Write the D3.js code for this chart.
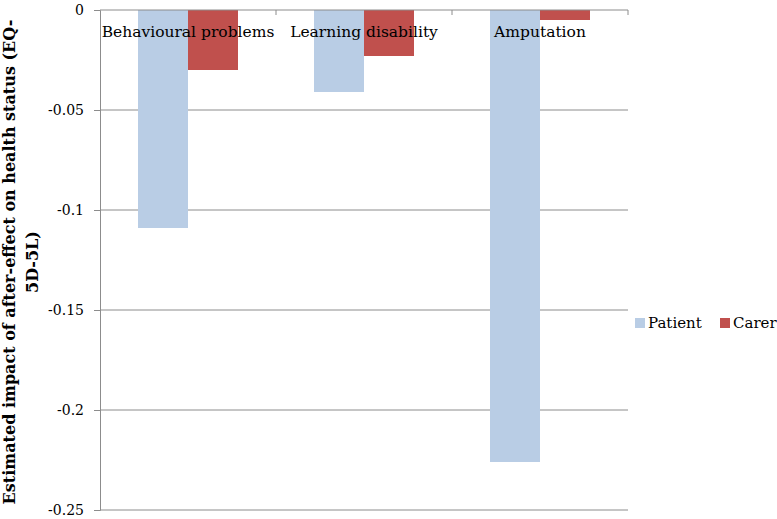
<!doctype html>
<html>
  <head>
    <meta charset="utf-8">
    <title>After-effect impact on health status</title>
    <script src="https://cdnjs.cloudflare.com/ajax/libs/d3/7.8.5/d3.min.js"></script>
    <style>
      body { margin: 0; background: #fff; }
      text { font-family: "DejaVu Serif", serif; fill: #000; }
    </style>
  </head>
  <body>
    <div id="chart"></div>
    <script>
      // data
      const categories = ['Behavioural problems', 'Learning disability', 'Amputation'];
      const series = ['Patient', 'Carer'];
      const patient = [-0.109, -0.041, -0.226];
      const carer = [-0.030, -0.023, -0.005];
      const yTicks = [0, -0.05, -0.1, -0.15, -0.2, -0.25];
      const colors = ['#b9cde5', '#c0504d'];

      const width = 777, height = 519;
      const plotL = 100, plotR = 628, plotT = 10, plotB = 510;

      const svg = d3.select('#chart').append('svg')
        .attr('width', width)
        .attr('height', height);

      const x = d3.scaleBand().domain(categories).range([plotL, plotR]).padding(0);
      const xs = d3.scaleBand().domain(series).range([0, x.bandwidth()]).paddingInner(0).paddingOuter(0.76);
      const y = d3.scaleLinear().domain([-0.25, 0]).range([plotB, plotT]);

      // gridlines
      svg.append('g')
        .selectAll('line')
        .data(yTicks.filter(d => d !== 0))
        .join('line')
        .attr('x1', plotL).attr('x2', plotR)
        .attr('y1', d => y(d)).attr('y2', d => y(d))
        .attr('stroke', '#8c8c8c').attr('stroke-width', 1);

      // y axis
      const yAxis = svg.append('g')
        .attr('transform', `translate(${plotL},0)`)
        .call(d3.axisLeft(y).tickValues(yTicks).tickSize(6).tickPadding(10)
          .tickFormat(d => d === 0 ? '0' : String(d)));
      yAxis.select('.domain').attr('stroke', '#8c8c8c');
      yAxis.selectAll('.tick line').attr('stroke', '#8c8c8c');
      yAxis.selectAll('.tick text')
        .style('font-family', '"DejaVu Serif", serif')
        .style('font-size', '14px');

      // bars
      const rows = categories.map((c, i) => ({ cat: c, vals: [patient[i], carer[i]] }));
      svg.append('g')
        .selectAll('g')
        .data(rows)
        .join('g')
        .attr('transform', d => `translate(${x(d.cat)},0)`)
        .selectAll('rect')
        .data(d => d.vals.map((v, j) => ({ s: series[j], v: v, j: j })))
        .join('rect')
        .attr('x', d => xs(d.s))
        .attr('width', xs.bandwidth())
        .attr('y', y(0))
        .attr('height', d => y(d.v) - y(0))
        .attr('fill', d => colors[d.j]);

      // category axis along zero
      const xAxis = svg.append('g')
        .attr('transform', `translate(0,${y(0)})`);
      xAxis.append('line')
        .attr('x1', plotL).attr('x2', plotR)
        .attr('stroke', '#8c8c8c');
      xAxis.selectAll('line.tick')
        .data(categories.map(c => x(c) + x.bandwidth()))
        .join('line')
        .attr('class', 'tick')
        .attr('x1', d => d).attr('x2', d => d)
        .attr('y1', 0).attr('y2', 5)
        .attr('stroke', '#8c8c8c');
      xAxis.selectAll('text')
        .data(categories)
        .join('text')
        .attr('x', d => x(d) + x.bandwidth() / 2)
        .attr('y', 27)
        .attr('text-anchor', 'middle')
        .style('font-size', '15.5px')
        .text(d => d);

      // y title
      svg.append('text')
        .attr('transform', 'translate(15,262) rotate(-90)')
        .attr('text-anchor', 'middle')
        .style('font-size', '16px')
        .style('font-weight', 'bold')
        .selectAll('tspan')
        .data(['Estimated impact of after-effect on health status (EQ-', '5D-5L)'])
        .join('tspan')
        .attr('x', 0)
        .attr('dy', (d, i) => i ? 23 : 0)
        .text(d => d);

      // legend
      const legend = svg.append('g');
      const legendX = [635, 720];
      series.forEach((s, i) => {
        legend.append('rect')
          .attr('x', legendX[i]).attr('y', 318)
          .attr('width', 10).attr('height', 10)
          .attr('fill', colors[i]);
        legend.append('text')
          .attr('x', legendX[i] + 13).attr('y', 328)
          .style('font-size', '15px')
          .text(s);
      });
    </script>
  </body>
</html>
